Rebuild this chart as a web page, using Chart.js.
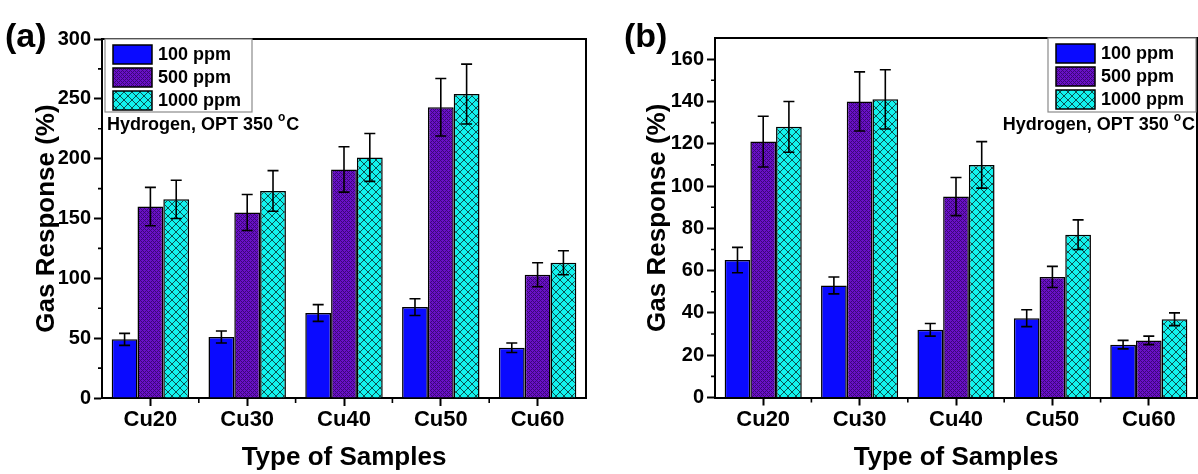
<!DOCTYPE html>
<html>
<head>
<meta charset="utf-8">
<script src="https://cdn.jsdelivr.net/npm/chart.js@4/dist/chart.umd.min.js"></script>
<style>
  html, body { margin: 0; padding: 0; background: #fff; }
  #wrap { position: relative; width: 1198px; height: 474px; overflow: hidden; }
  .panel { position: absolute; top: 0; height: 474px; }
  #pa { left: 0; width: 600px; }
  #pb { left: 600px; width: 598px; }
</style>
</head>
<body>
<div id="wrap">
  <div class="panel" id="pa"><canvas id="ca"></canvas></div>
  <div class="panel" id="pb"><canvas id="cb"></canvas></div>
</div>
<script>
// Sample names and gas concentrations
const samples = ['Cu20', 'Cu30', 'Cu40', 'Cu50', 'Cu60'];
const concLabels = ['100 ppm', '500 ppm', '1000 ppm'];

// Panel (a): gas response (%) and error (±)
const a100 = [49, 51, 71, 76, 42];
const a500 = [160, 155, 191, 243, 103];
const a1000 = [166, 173, 201, 254, 113];
const a100Err = [5, 5, 7, 7, 4];
const a500Err = [16, 15, 19, 24, 10];
const a1000Err = [16, 17, 20, 25, 10];

// Panel (b): gas response (%) and error (±)
const b100 = [65, 53, 32, 37.5, 25];
const b500 = [121, 140, 95, 57, 27];
const b1000 = [128, 141, 110, 77, 37];
const b100Err = [6, 4, 3, 4, 2];
const b500Err = [12, 14, 9, 5, 2];
const b1000Err = [12, 14, 11, 7, 3];

// Axis ranges and tick steps
const yMaxA = 300, yStepA = 50;
const yMaxB = 170, yStepB = 20;

const noteText = 'Hydrogen, OPT 350 ';
const noteDeg = 'o';
const noteUnit = 'C';

const FONT = "'Liberation Sans', Arial, Helvetica, sans-serif";
Chart.defaults.font.family = FONT;
Chart.defaults.color = '#000';

// Fill patterns
function solidBlue() { return '#0a0aff'; }
function purplePattern() {
  const c = document.createElement('canvas');
  c.width = 4; c.height = 4;
  const g = c.getContext('2d');
  g.fillStyle = '#6a10c8';
  g.fillRect(0, 0, 4, 4);
  g.fillStyle = '#3c0778';
  g.fillRect(0, 0, 1, 1); g.fillRect(2, 2, 1, 1);
  g.fillRect(1, 1, 1, 1); g.fillRect(3, 3, 1, 1);
  g.fillRect(3, 1, 1, 1); g.fillRect(1, 3, 1, 1);
  return g.createPattern(c, 'repeat');
}
function cyanPattern() {
  const c = document.createElement('canvas');
  c.width = 8; c.height = 8;
  const g = c.getContext('2d');
  g.fillStyle = '#12f2ee';
  g.fillRect(0, 0, 8, 8);
  g.strokeStyle = '#0c5050';
  g.lineWidth = 1;
  g.beginPath();
  g.moveTo(0, 0); g.lineTo(8, 8);
  g.moveTo(8, 0); g.lineTo(0, 8);
  g.stroke();
  return g.createPattern(c, 'repeat');
}

function makeDatasets(v1, v2, v3, e1, e2, e3) {
  const fills = [solidBlue(), purplePattern(), cyanPattern()];
  return [v1, v2, v3].map((vals, i) => ({
    label: concLabels[i],
    data: vals,
    errors: [e1, e2, e3][i],
    backgroundColor: fills[i],
    borderColor: '#000',
    borderWidth: 1.5,
    categoryPercentage: 0.8,
    barPercentage: 1.0
  }));
}

// Error bars with caps
const errorBars = {
  id: 'errorBars',
  afterDatasetsDraw(chart) {
    const ctx = chart.ctx, ys = chart.scales.y;
    ctx.save();
    ctx.strokeStyle = '#000';
    ctx.lineWidth = 1.6;
    chart.data.datasets.forEach((ds, i) => {
      const meta = chart.getDatasetMeta(i);
      meta.data.forEach((bar, j) => {
        const v = ds.data[j], e = ds.errors[j];
        const t = ys.getPixelForValue(v + e), b = ys.getPixelForValue(v - e);
        const x = bar.x, cap = 5.5;
        ctx.beginPath();
        ctx.moveTo(x, t); ctx.lineTo(x, b);
        ctx.moveTo(x - cap, t); ctx.lineTo(x + cap, t);
        ctx.moveTo(x - cap, b); ctx.lineTo(x + cap, b);
        ctx.stroke();
      });
    });
    ctx.restore();
  }
};

// Frame, minor ticks, legend box, note and panel letter
const decor = {
  id: 'decor',
  afterDraw(chart, args, opts) {
    const ctx = chart.ctx, a = chart.chartArea;
    const xs = chart.scales.x, ys = chart.scales.y;
    ctx.save();
    ctx.strokeStyle = '#000';
    // top and right frame lines
    ctx.lineWidth = 2;
    ctx.beginPath();
    ctx.moveTo(a.left - 1, a.top); ctx.lineTo(a.right, a.top); ctx.lineTo(a.right, a.bottom + 1);
    ctx.stroke();
    // minor ticks
    ctx.lineWidth = 1.6;
    ctx.beginPath();
    for (let v = opts.minorStep; v < ys.max; v += opts.minorStep * 2) {
      const y = ys.getPixelForValue(v);
      ctx.moveTo(a.left - 4, y); ctx.lineTo(a.left, y);
    }
    for (let i = 0; i < xs.ticks.length - 1; i++) {
      const x = (xs.getPixelForTick(i) + xs.getPixelForTick(i + 1)) / 2;
      ctx.moveTo(x, a.bottom); ctx.lineTo(x, a.bottom + 5);
    }
    ctx.stroke();

    // legend
    const L = opts.legend;
    ctx.fillStyle = '#fff';
    ctx.fillRect(L.x, L.y, L.w, L.h);
    ctx.strokeStyle = '#8a8a8a';
    ctx.lineWidth = 1.2;
    ctx.strokeRect(L.x, L.y, L.w, L.h);
    ctx.font = 'bold 18px ' + FONT;
    ctx.textBaseline = 'middle';
    ctx.textAlign = 'left';
    chart.data.datasets.forEach((ds, i) => {
      const sy = L.y + 6 + i * 23;
      ctx.fillStyle = ds.backgroundColor;
      ctx.fillRect(L.sx, sy, 39, 19);
      ctx.strokeStyle = '#000';
      ctx.lineWidth = 1.5;
      ctx.strokeRect(L.sx, sy, 39, 19);
      ctx.fillStyle = '#000';
      ctx.fillText(ds.label, L.tx, sy + 10);
    });

    // gas / temperature note with raised degree symbol
    const N = opts.note;
    ctx.fillStyle = '#000';
    ctx.font = 'bold 18px ' + FONT;
    const w1 = ctx.measureText(noteText).width;
    const w3 = ctx.measureText(noteUnit).width;
    ctx.font = 'bold 12px ' + FONT;
    const w2 = ctx.measureText(noteDeg).width + 1;
    const total = w1 + w2 + w3;
    let x0 = N.align === 'right' ? N.x - total : N.x;
    ctx.textAlign = 'left';
    ctx.font = 'bold 18px ' + FONT;
    ctx.fillText(noteText, x0, N.y);
    ctx.font = 'bold 12px ' + FONT;
    ctx.fillText(noteDeg, x0 + w1, N.y - 7);
    ctx.font = 'bold 18px ' + FONT;
    ctx.fillText(noteUnit, x0 + w1 + w2, N.y);

    // panel letter
    ctx.font = 'bold 34px ' + FONT;
    ctx.fillText(opts.letter, opts.letterX, 38);
    ctx.restore();
  }
};

function makeChart(id, datasets, yMax, yStep, yWidth, xHeight, padTop, padRight, titlePad, decorOpts) {
  return new Chart(document.getElementById(id), {
    type: 'bar',
    data: { labels: samples, datasets },
    plugins: [errorBars, decor],
    options: {
      responsive: true,
      maintainAspectRatio: false,
      animation: false,
      devicePixelRatio: 1,
      layout: { padding: { left: 0, right: padRight, top: padTop, bottom: 0 } },
      plugins: { legend: { display: false }, tooltip: { enabled: false }, decor: decorOpts },
      scales: {
        x: {
          offset: true,
          grid: { offset: false, drawOnChartArea: false, tickLength: 8, tickWidth: 2, tickColor: '#000' },
          border: { color: '#000', width: 2 },
          ticks: { font: { size: 22, weight: 'bold' }, color: '#000', padding: 1, maxRotation: 0 },
          title: { display: true, text: 'Type of Samples', color: '#000', font: { size: 26, weight: 'bold' }, padding: { top: 0, bottom: 1 } },
          afterFit(s) { s.height = xHeight; }
        },
        y: {
          min: 0, max: yMax,
          grid: { drawOnChartArea: false, tickLength: 8, tickWidth: 2, tickColor: '#000' },
          border: { color: '#000', width: 2 },
          ticks: { stepSize: yStep, includeBounds: false, font: { size: 20, weight: 'bold' }, color: '#000', padding: 3 },
          title: { display: true, text: 'Gas Response (%)', color: '#000', font: { size: 26, weight: 'bold' }, padding: { top: titlePad, bottom: 0 } },
          afterFit(s) { s.width = yWidth; }
        }
      }
    }
  });
}

makeChart('ca', makeDatasets(a100, a500, a1000, a100Err, a500Err, a1000Err),
  yMaxA, yStepA, 102, 76, 39, 14, 31,
  { minorStep: yStepA / 2, letter: '(a)', letterX: 5,
    legend: { x: 105, y: 39, w: 147, h: 73, sx: 113, tx: 158 },
    note: { x: 107, y: 125, align: 'left' } });

makeChart('cb', makeDatasets(b100, b500, b1000, b100Err, b500Err, b1000Err),
  yMaxB, yStepB, 115, 76.5, 38, 1, 42,
  { minorStep: yStepB / 2, letter: '(b)', letterX: 24,
    legend: { x: 448, y: 38, w: 148, h: 74, sx: 456, tx: 501 },
    note: { x: 595, y: 125, align: 'right' } });
</script>
</body>
</html>
